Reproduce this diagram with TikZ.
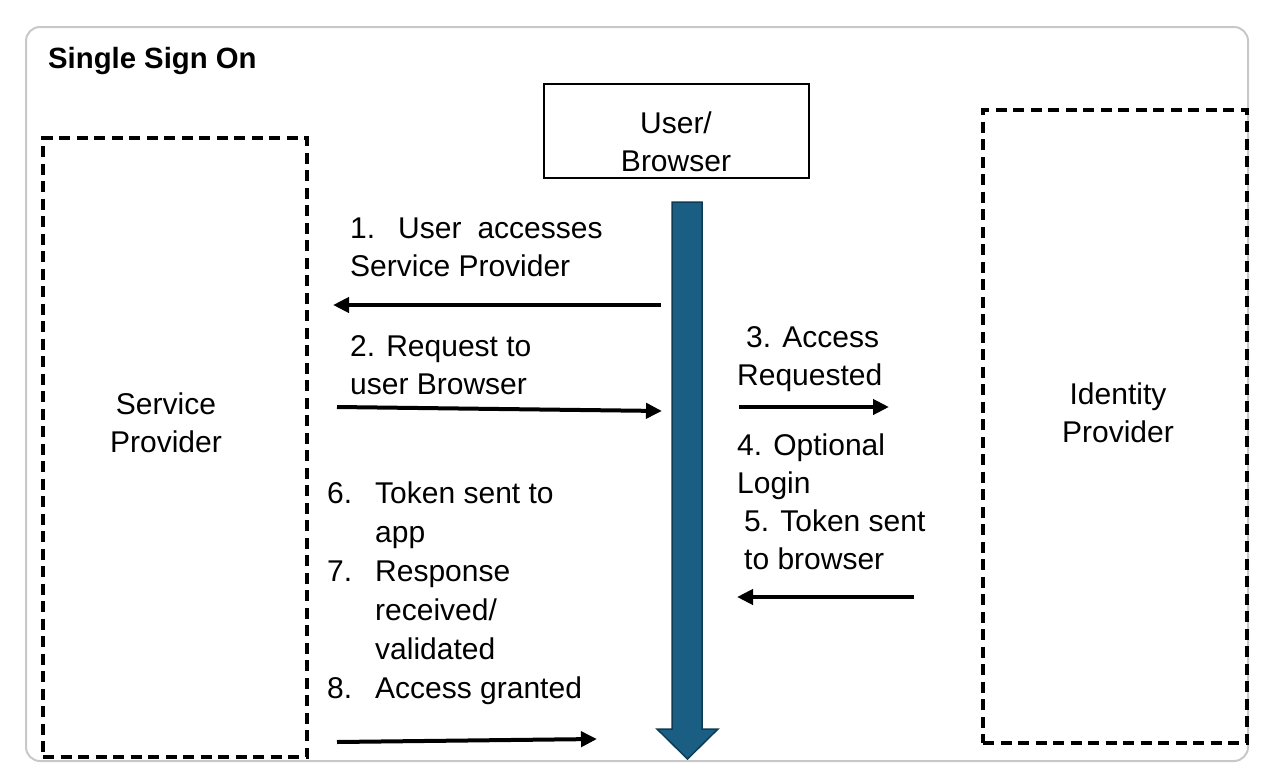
\documentclass[tikz,border=0pt]{standalone}
\usepackage{fontspec}
\setmainfont{Liberation Sans}
\usetikzlibrary{arrows.meta}
\definecolor{barfill}{HTML}{1B5E84}
\definecolor{barline}{HTML}{0F3A55}
\definecolor{framegray}{HTML}{C8C8C8}
\begin{document}
\begin{tikzpicture}[x=1pt,y=-1pt,
  lbl/.style={inner sep=0pt, anchor=base west, font=\fontsize{30}{38.5}\selectfont},
  clbl/.style={inner sep=0pt, anchor=base, font=\fontsize{30}{38.5}\selectfont},
  dashbox/.style={draw=black, line width=3.2pt, dash pattern=on 11pt off 6.5pt, inner sep=0pt},
  solidbox/.style={draw=black, line width=2.8pt, inner sep=0pt},
  flow/.style={draw=black, line width=4pt, -{Triangle[length=16pt,width=15pt]}}]
\useasboundingbox (0,0) rectangle (1270,782);
% outer frame
\draw[framegray, line width=2pt, rounded corners=14pt] (26,27) rectangle (1248,761);
% title
\node[anchor=base west, inner sep=0pt, font=\bfseries\fontsize{29.3}{35}\selectfont] (title) at (48,68) {Single Sign On};
% boxes
\node[dashbox, minimum width=264pt, minimum height=619pt] (sp) at (175,447.5) {};
\node[dashbox, minimum width=264pt, minimum height=633pt] (idp) at (1115,426.5) {};
\node[solidbox, minimum width=265pt, minimum height=94pt] (ub) at (676.5,131) {};
% box labels
\node[clbl] (spt) at (166,414) {\begin{tabular}[t]{@{}c@{}}Service\\Provider\end{tabular}};
\node[clbl] (idpt) at (1118,404) {\begin{tabular}[t]{@{}c@{}}Identity\\Provider\end{tabular}};
\node[clbl] (ubt) at (676,133) {\begin{tabular}[t]{@{}c@{}}User/\\Browser\end{tabular}};
% blue flow bar
\coordinate (bartop) at (687,202);
\coordinate (bartip) at (687.5,759);
\filldraw[fill=barfill, draw=barline, line width=1.5pt]
  (672,202) -- (702,202) -- (702,729) -- (718,729) -- (bartip) -- (657,729) -- (672,729) -- cycle;
% step labels
\node[lbl] (t1) at (350,238) {\begin{tabular}[t]{@{}l@{}}\makebox[48pt][l]{1.}User\hspace{16pt}accesses\\Service Provider\end{tabular}};
\node[lbl] (t2) at (350,356) {\begin{tabular}[t]{@{}l@{}}2. Request to\\user Browser\end{tabular}};
\node[lbl] (t3) at (737,347) {\begin{tabular}[t]{@{}l@{}}\hspace{9pt}3. Access\\Requested\end{tabular}};
\node[lbl] (t4) at (737,455) {\begin{tabular}[t]{@{}l@{}}4. Optional\\Login\end{tabular}};
\node[lbl] (t5) at (744,531) {\begin{tabular}[t]{@{}l@{}}5. Token sent\\to browser\end{tabular}};
\node[lbl] (t6) at (327,503) {\fontsize{30}{39}\selectfont\begin{tabular}[t]{@{}p{48pt}@{}l@{}}6.&Token sent to\\&app\\7.&Response\\&received/\\&validated\\8.&Access granted\end{tabular}};
% connectors
\coordinate (a1s) at (661,305); \coordinate (a1e) at (333,305);
\coordinate (a2s) at (337,407); \coordinate (a2e) at (662,411);
\coordinate (a3s) at (739,407); \coordinate (a3e) at (889,407);
\coordinate (a5s) at (914,597); \coordinate (a5e) at (737,597);
\coordinate (a8s) at (337,742); \coordinate (a8e) at (597,739);
\draw[flow] (a1s) -- (a1e);
\draw[flow] (a2s) -- (a2e);
\draw[flow] (a3s) -- (a3e);
\draw[flow] (a5s) -- (a5e);
\draw[flow] (a8s) -- (a8e);
\end{tikzpicture}
\end{document}
